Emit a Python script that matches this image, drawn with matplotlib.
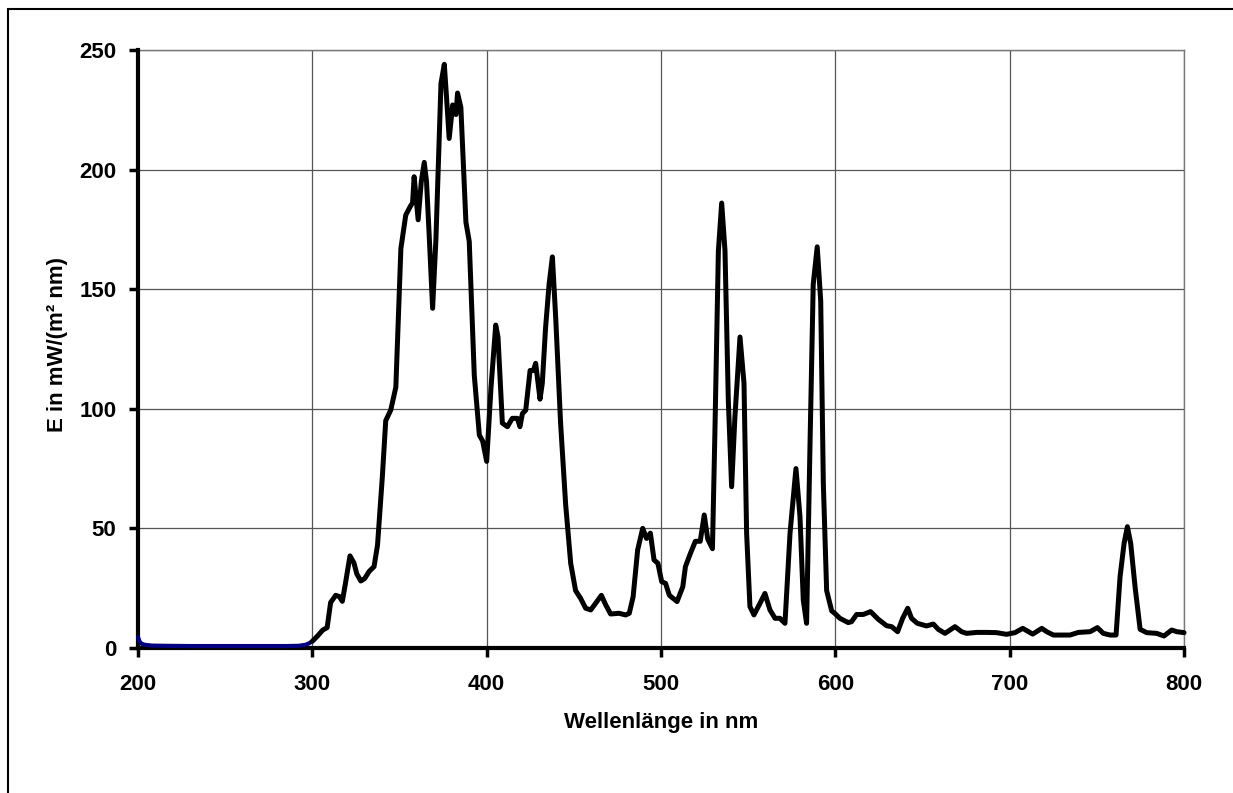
import matplotlib
matplotlib.use("Agg")
import matplotlib.pyplot as plt
from matplotlib.patches import Rectangle

plt.rcParams['font.family'] = ['Liberation Sans', 'DejaVu Sans']
plt.rcParams['font.weight'] = 'bold'

# UV part (blue), 200..300 nm
uv_nm = [200, 201, 202, 204, 208, 215, 230, 260, 285, 292, 296, 298, 300]
uv_val = [4.5, 2.6, 1.8, 1.3, 1.0, 0.9, 0.8, 0.8, 0.8, 0.9, 1.3, 1.9, 2.8]

# visible spectrum (black), 300..800 nm
vis_nm = [300, 303, 306, 308.5, 310.5, 313.4, 315.5, 317.2, 319, 321.6, 323.9, 325.5,
          327.8, 330, 332.6, 335.4, 337.4, 340.2, 342.1, 345, 347.9, 350.8, 353.6,
          356.5, 357.5, 358.4, 360.7, 362.5, 364.2, 365.5, 367, 369, 370.9, 373.8,
          375.7, 377, 378.5, 380.5, 382.4, 383.3, 385.2, 388.1, 390, 392.9, 395.8,
          397.7, 400, 402.5, 405.2, 406.5, 409, 411.9, 414.7, 417.6, 419.1, 420.5,
          422.4, 424.9, 426.8, 428.1, 430.6, 431.9, 433.8, 435.8, 437.7, 439.6,
          442.4, 445.3, 448.2, 451, 453.9, 456.8, 459.7, 462.5, 465.8, 468.3,
          471.1, 475.9, 479.7, 481.8, 484, 486.6, 489.5, 491.7, 493.9, 496, 498.2,
          500.4, 502.6, 504.8, 509.2, 512.5, 514, 516.9, 519.7, 522.5, 524.8,
          526.8, 529.5, 530.9, 532.9, 534.8, 536.7, 538.6, 540.5, 542.4, 545.3,
          547.6, 549.1, 551, 553.3, 556.8, 559.6, 562.5, 565.4, 568.2, 571.1, 574,
          577.4, 579.7, 581.6, 583.5, 585.4, 587.3, 589.6, 591.6, 593.1, 595,
          597.9, 599.6, 602.6, 607.4, 609.3, 612.2, 616, 620.2, 624.6, 629.4,
          632.3, 635.7, 638.6, 641.5, 643.7, 647, 652.3, 656.2, 659, 662.9, 668.6,
          672.4, 675.3, 681, 686.8, 692.5, 698.2, 703, 707.5, 709.8, 713.2, 718.4,
          721.2, 725.1, 734.6, 739.4, 746.1, 750.3, 753.7, 757.6, 761, 763.3,
          765.6, 767.5, 769.4, 771.9, 774.8, 778.6, 784.3, 788.5, 792.9, 795.8, 800]
vis_val = [2.8, 5, 7.5, 8.5, 19, 22, 21.5, 19.5, 27, 38.5, 35.5, 31,
           28, 29, 32, 34, 43, 72, 95, 99.5, 109, 167, 181,
           185, 186, 197, 179, 195, 203, 195, 173, 142, 171, 236,
           244, 230, 213, 227, 223, 232, 226, 178, 170, 114, 89,
           86.5, 78, 109, 135, 130, 94, 92.5, 96, 96, 92.5, 98,
           99.4, 116, 116, 119, 104, 110.6, 134, 152, 163.5, 138,
           94, 60, 35.4, 24, 20.7, 16.6, 15.9, 18.7, 22, 18,
           14.2, 14.5, 13.8, 14.5, 21.4, 41, 50, 45.8, 48, 36.8, 35.4,
           27.7, 27, 22, 19.4, 25.6, 34, 39.6, 44.6, 44.6, 55.6,
           45.5, 41.5, 89.7, 166, 186, 166, 103.6, 67.4, 96.7, 130,
           110.6, 48, 17.3, 13.8, 18.7, 22.8, 15.9, 12.4, 12.4, 10.3, 48,
           75, 55, 20, 10.3, 82.7, 152, 167.7, 145, 68.8, 24,
           15.5, 14.5, 12.4, 10.6, 11, 14, 14, 15.2, 12, 9.3,
           8.9, 6.8, 12.4, 16.6, 12.4, 10.3, 9.2, 10, 7.8, 6.1, 8.9,
           6.8, 6.1, 6.5, 6.5, 6.4, 5.7, 6.4, 8.2, 7.2, 5.8, 8.2,
           6.8, 5.4, 5.4, 6.5, 6.8, 8.5, 6.1, 5.4, 5.4, 29.8,
           43.7, 50.7, 43.7, 25.6, 7.8, 6.4, 6.1, 5, 7.5, 6.8, 6.4]

x_ticks = [200, 300, 400, 500, 600, 700, 800]
y_ticks = [0, 50, 100, 150, 200, 250]

fig = plt.figure(figsize=(12.33, 7.93), dpi=100)
ax = fig.add_axes([0.1119, 0.1829, 0.8484, 0.7541])

ax.plot(uv_nm, uv_val, color='#000080', lw=3, solid_capstyle='round',
        solid_joinstyle='round', zorder=6, clip_on=False)
ax.plot(vis_nm, vis_val, color='black', lw=3.6, solid_capstyle='round',
        solid_joinstyle='round', zorder=7, clip_on=False)

ax.set_xlim(200, 800)
ax.set_ylim(0, 250)
ax.set_xticks(x_ticks)
ax.set_yticks(y_ticks)
ax.grid(True, color='#555555', lw=0.9)
ax.set_axisbelow(True)

for s in ['top', 'right']:
    ax.spines[s].set_color('#777777')
    ax.spines[s].set_linewidth(1)
for s in ['left', 'bottom']:
    ax.spines[s].set_color('black')
    ax.spines[s].set_linewidth(3)
    ax.spines[s].set_zorder(5)

ax.tick_params(axis='both', direction='out', length=6.5, width=2.5, labelsize=16)
ax.tick_params(axis='x', pad=12)
ax.tick_params(axis='y', pad=9)
for lab in ax.get_xticklabels() + ax.get_yticklabels():
    lab.set_fontweight('bold')

ax.set_xlabel('Wellenlänge in nm', fontsize=16, fontweight='bold')
ax.set_ylabel('E in mW/(m² nm)', fontsize=16, fontweight='bold')
ax.xaxis.set_label_coords(0.5005, -0.107)
ax.yaxis.set_label_coords(-0.067, 0.508)

# frame around the chart (right and bottom edges fall outside the image)
fig.patches.append(Rectangle((8 / 1233, -10 / 793), 1240 / 1233, 794 / 793,
                             transform=fig.transFigure, fill=False,
                             edgecolor='black', lw=1.5, clip_on=False))

fig.savefig('out.png', dpi=100)
